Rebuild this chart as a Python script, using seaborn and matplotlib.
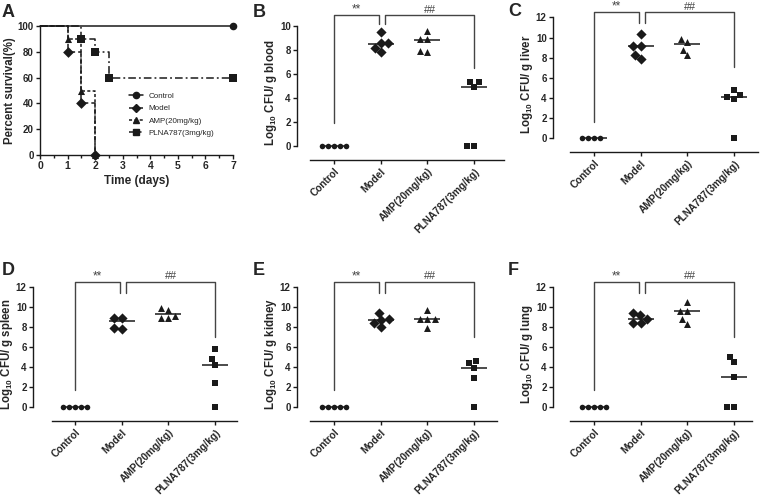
import pandas as pd
import matplotlib
matplotlib.use("Agg")
import matplotlib.pyplot as plt
from matplotlib.lines import Line2D
import seaborn as sns

sns.set_style("ticks")
plt.rcParams["font.family"] = ["Liberation Sans", "DejaVu Sans"]
plt.rcParams["font.weight"] = "bold"
plt.rcParams["axes.labelweight"] = "bold"
plt.rcParams["mathtext.fontset"] = "custom"
plt.rcParams["mathtext.rm"] = "Liberation Sans:bold"
plt.rcParams["mathtext.bf"] = "Liberation Sans:bold"
plt.rcParams["mathtext.it"] = "Liberation Sans:bold"

# --- survival (panel A) ---
survival_names = ["Control", "Model", "AMP(20mg/kg)", "PLNA787(3mg/kg)"]
days_control = [0, 7]
surv_control = [100, 100]
days_model = [0, 1, 1.5, 2]
surv_model = [100, 80, 40, 0]
days_amp = [0, 1, 1.5, 2]
surv_amp = [100, 90, 50, 0]
days_plna = [0, 1.5, 2, 2.5, 7]
surv_plna = [100, 90, 80, 60, 60]

# --- bacterial load (panels B-F) ---
groups = ["Control", "Model", "AMP(20mg/kg)", "PLNA787(3mg/kg)"]

blood = [[0, 0, 0, 0, 0],
         [9.5, 8.55, 8.55, 8.2, 7.85],
         [9.6, 8.9, 8.9, 7.93, 7.85],
         [5.35, 5.35, 4.93, 0, 0]]
blood_med = [0, 8.5, 8.83, 4.93]

liver = [[0, 0, 0, 0],
         [10.3, 9.18, 9.18, 8.28, 7.85],
         [9.9, 9.55, 8.8, 8.25],
         [4.82, 4.32, 4.09, 3.92, 0]]
liver_med = [0, 9.18, 9.34, 4.09]

spleen = [[0, 0, 0, 0, 0],
          [8.9, 8.9, 7.9, 7.77],
          [9.93, 9.73, 9.1, 8.9, 8.9],
          [5.77, 4.83, 4.23, 2.4, 0]]
spleen_med = [0, 8.6, 9.33, 4.23]

kidney = [[0, 0, 0, 0, 0],
          [9.43, 8.83, 8.73, 8.4, 8.0],
          [9.73, 8.83, 8.83, 8.83, 7.9],
          [4.57, 4.4, 3.93, 2.93, 0]]
kidney_med = [0, 8.73, 8.83, 3.93]

lung = [[0, 0, 0, 0, 0],
        [9.4, 9.2, 8.85, 8.45, 8.45],
        [10.5, 9.6, 9.6, 8.77, 8.35],
        [5.03, 4.47, 2.98, 0, 0]]
lung_med = [0, 8.85, 9.6, 2.98]

W, H = 760, 503
fig = plt.figure(figsize=(W / 100, H / 100), dpi=100)
INK = "#1a1a1a"
GREY = "#444444"


def px_axes(left, top, right, bottom):
    return fig.add_axes([left / W, 1 - bottom / H, (right - left) / W, (bottom - top) / H])


def style_ticks(ax):
    ax.tick_params(axis="both", length=3, width=1, color=INK, labelsize=7, pad=1.5)
    for s in ["left", "bottom"]:
        ax.spines[s].set_linewidth(1)
        ax.spines[s].set_color(INK)
    for lab in ax.get_xticklabels() + ax.get_yticklabels():
        lab.set_fontweight("bold")


# ---------------- Panel A ----------------
axA = px_axes(40, 26, 233, 155)
styles = [("-", "o"), ((0, (4, 2)), "D"), ((0, (2, 1.5)), "^"), ((0, (5, 2, 1.2, 2)), "s")]
series = [(days_control, surv_control), (days_model, surv_model),
          (days_amp, surv_amp), (days_plna, surv_plna)]
handles = []
for name, (d, s), (ls, mk) in zip(survival_names, series, styles):
    df = pd.DataFrame({"day": d, "surv": s})
    sns.lineplot(data=df, x="day", y="surv", ax=axA, color=INK, linestyle=ls, lw=1.1,
                 drawstyle="steps-post", estimator=None, sort=False, clip_on=False)
    sns.scatterplot(data=df.iloc[1:], x="day", y="surv", ax=axA, color=INK, marker=mk,
                    s=30 if mk != "^" else 26, edgecolor=INK, linewidth=0, clip_on=False, zorder=5)
    handles.append(Line2D([], [], color=INK, linestyle=ls, lw=1.1, marker=mk, markersize=4.5))
axA.set_xlim(0, 7)
axA.set_ylim(0, 100)
axA.set_xticks(range(0, 8))
axA.set_xticks([x + 0.5 for x in range(0, 7)], minor=True)
axA.set_yticks(range(0, 101, 20))
axA.set_xlabel("Time (days)", fontsize=8.5, fontweight="bold", labelpad=3)
axA.set_ylabel("Percent survival(%)", fontsize=8.3, fontweight="bold", labelpad=1)
sns.despine(ax=axA)
style_ticks(axA)
axA.tick_params(axis="x", labelsize=7.5)
axA.tick_params(axis="x", which="minor", length=2, width=1, color=INK)
axA.legend(handles, survival_names, loc="upper left", frameon=False,
           handlelength=1.7, labelspacing=0.6, handletextpad=0.7,
           prop={"weight": "normal", "size": 5.8},
           bbox_to_anchor=(122 / W, 1 - 85 / H), bbox_transform=fig.transFigure)
fig.text(2 / W, 1 - 4 / H, "A", fontsize=13, fontweight="bold", va="top", ha="left")

# ---------------- Panels B-F ----------------
markers = ["o", "D", "^", "s"]
sizes = [4.0, 5.2, 5.0, 4.8]
DX = 46.7
panels = [
    # letter, values, medians, organ, yspine, cat0, xline_start, xline_end, y0, sy, ymax,
    # bottom, bracket (top, ctrl_end, model_end, plna_end), letter pos
    ("B", blood, blood_med, "blood", 297, 334, 310, 504, 146, 12.0, 10, 160,
     (10.9, 1.9, 10.2, 6.5), (253, 4)),
    ("C", liver, liver_med, "liver", 553, 594, 570, 758, 138, 10.05, 12, 152,
     (12.5, 1.6, 11.4, 7.1), (508, 3)),
    ("D", spleen, spleen_med, "spleen", 33, 75, 52, 237, 407, 10.0, 12, 421,
     (12.5, 1.7, 11.4, 7.0), (2, 262)),
    ("E", kidney, kidney_med, "kidney", 297, 334, 310, 497, 407, 10.0, 12, 421,
     (12.5, 1.7, 11.4, 7.0), (253, 262)),
    ("F", lung, lung_med, "lung", 553, 594, 570, 752, 407, 10.0, 12, 421,
     (12.5, 1.7, 11.4, 7.0), (508, 262)),
]

for (letter, vals, meds, organ, yspine, cat0, xs, xe, y0, sy, ymax, bottom,
     br, lpos) in panels:
    top = y0 - ymax * sy
    ax = px_axes(yspine, top, xe, bottom)
    rows = [(g, v) for g, vs in zip(groups, vals) for v in vs]
    df = pd.DataFrame(rows, columns=["group", "value"])
    for g, mk, sz in zip(groups, markers, sizes):
        sub = df[df["group"] == g]
        sns.swarmplot(data=sub, x="group", y="value", order=groups, ax=ax, color=INK,
                      marker=mk, size=sz, linewidth=0, clip_on=False,
                      zorder=4, warn_thresh=1)
    for i, m in enumerate(meds):
        ax.hlines(m, i - 0.28, i + 0.28, color=INK, lw=1.1, zorder=3)
    ax.set_xlim((yspine - cat0) / DX, (xe - cat0) / DX)
    ax.set_ylim(-(bottom - y0) / sy, ymax)
    ax.set_yticks(range(0, ymax + 1, 2))
    sns.despine(ax=ax)
    ax.spines["left"].set_bounds(0, ymax)
    ax.spines["bottom"].set_bounds((xs - cat0) / DX, (xe - cat0) / DX)
    ax.set_xlabel("")
    ax.set_ylabel(r"Log$_{10}$ CFU/ g " + organ, fontsize=8.3, fontweight="bold", labelpad=0.5)
    ax.set_xticks(range(4))
    ax.set_xticklabels(groups, rotation=45, ha="right", rotation_mode="anchor")
    style_ticks(ax)
    ax.tick_params(axis="x", labelsize=7.3)

    # significance brackets
    btop, ctrl_end, model_end, plna_end = br
    ax.plot([0, 0, 0.96, 0.96], [ctrl_end, btop, btop, model_end], color=GREY, lw=1,
            clip_on=False)
    ax.plot([1.1, 1.1, 3, 3], [model_end, btop, btop, plna_end], color=GREY, lw=1,
            clip_on=False)
    ax.annotate("**", xy=(0.48, btop), xytext=(0, 0), textcoords="offset points",
                ha="center", va="bottom", fontsize=8.5, color=GREY, fontweight="normal",
                annotation_clip=False)
    ax.annotate("##", xy=(2.05, btop), xytext=(0, 0.5), textcoords="offset points",
                ha="center", va="bottom", fontsize=7.8, color=GREY, fontweight="normal",
                annotation_clip=False)
    fig.text(lpos[0] / W, 1 - lpos[1] / H, letter, fontsize=13, fontweight="bold",
             va="top", ha="left")

fig.savefig("out.png", dpi=100)
